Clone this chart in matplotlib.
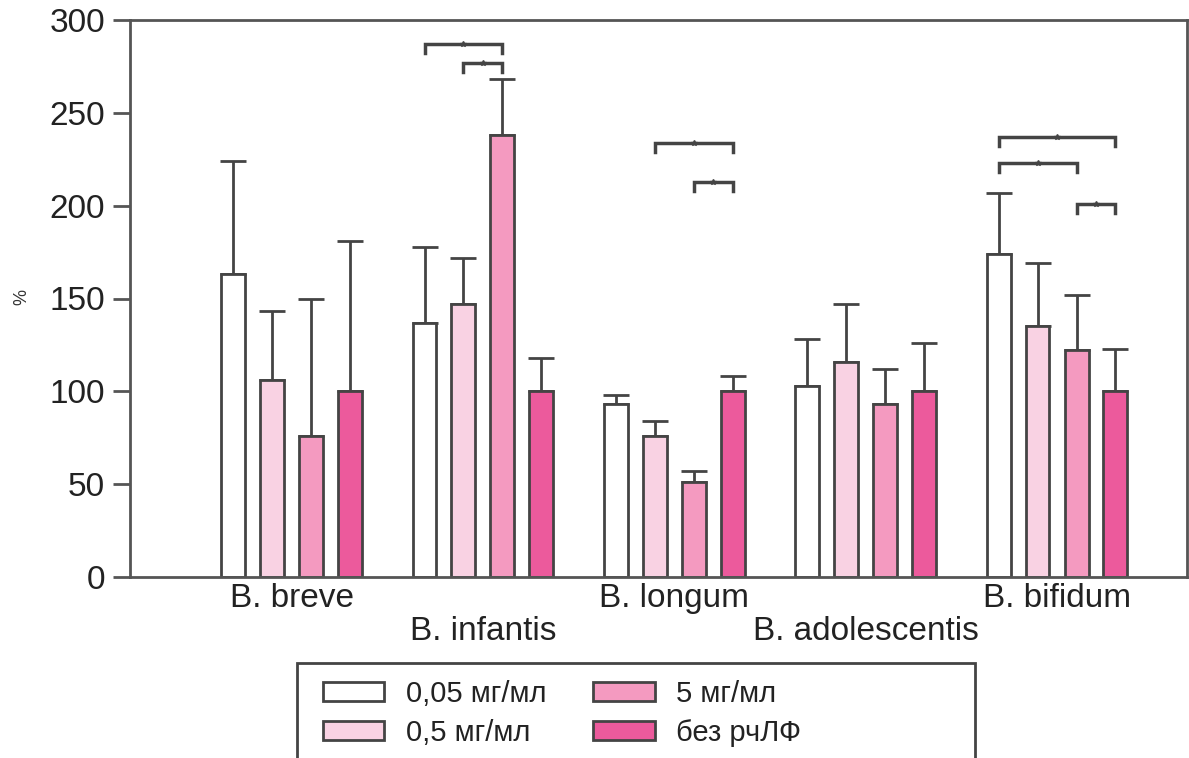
import numpy as np
import matplotlib.pyplot as plt
from matplotlib.patches import Rectangle

plt.rcParams['font.family'] = ['Liberation Sans', 'DejaVu Sans']

# Strains and concentration series
strains = ['B. breve', 'B. infantis', 'B. longum', 'B. adolescentis', 'B. bifidum']
series = ['0,05 мг/мл', '0,5 мг/мл', '5 мг/мл', 'без рчЛФ']

# mean values, %
c005 = [163, 137, 93, 103, 174]
c05 = [106, 147, 76, 116, 135]
c5 = [76, 238, 51, 93, 122]
ctrl = [100, 100, 100, 100, 100]

# upper error bar ends, %
c005_top = [224, 178, 98, 128, 207]
c05_top = [143, 172, 84, 147, 169]
c5_top = [150, 268, 57, 112, 152]
ctrl_top = [181, 118, 108, 126, 123]

# significance brackets: (strain index, bar a, bar b, height)
sig_pairs = [(1, 0, 2, 287), (1, 1, 2, 277),
             (2, 1, 3, 234), (2, 2, 3, 213),
             (4, 0, 3, 237), (4, 0, 2, 223), (4, 2, 3, 201)]

colors = ['#ffffff', '#f9d2e3', '#f49ac0', '#ec5a9c']
edge = '#444444'

W, H = 1189, 758
fig = plt.figure(figsize=(W / 100, H / 100), dpi=100)
ax = fig.add_axes([130 / W, 1 - 577 / H, 1057 / W, 557 / H])

x = np.arange(len(strains))
offsets = [-0.305, -0.102, 0.102, 0.305]
width = 0.125

values = [c005, c05, c5, ctrl]
tops = [c005_top, c05_top, c5_top, ctrl_top]
for k in range(4):
    v = np.array(values[k])
    err = np.array(tops[k]) - v
    ax.bar(x + offsets[k], v, width, color=colors[k], edgecolor=edge, linewidth=2,
           label=series[k], zorder=2,
           yerr=[np.zeros_like(err), err],
           error_kw=dict(ecolor=edge, elinewidth=2, capsize=9.5, capthick=2, zorder=1))

# brackets with star marks
drop = 5
for g, a, b, h in sig_pairs:
    xa, xb = g + offsets[a], g + offsets[b]
    ax.plot([xa, xa, xb, xb], [h - drop, h, h, h - drop], color=edge, lw=2.5,
            solid_joinstyle='miter', zorder=3)
    ax.plot((xa + xb) / 2, h, marker='*', ms=4, color=edge, zorder=3)

ax.set_xlim(-0.844, 4.679)
ax.set_ylim(0, 300)
ax.set_yticks(np.arange(0, 301, 50))
ax.tick_params(axis='y', length=12, width=2, color='#555555', labelsize=24,
               labelcolor='#222222', pad=6)
ax.set_xticks([])
for s in ax.spines.values():
    s.set_color('#555555')
    s.set_linewidth(2)

# strain names in two staggered rows
for i, name in enumerate(strains):
    y = -0.039 if i % 2 == 0 else -0.097
    ax.text(i, y, name, transform=ax.get_xaxis_transform(), ha='center', va='center',
            fontsize=24, color='#222222')

fig.text(22 / W, 1 - 297 / H, '%', rotation=90, fontsize=13, color='#333333',
         ha='center', va='center')

# legend frame runs off the bottom edge
fig.patches.append(Rectangle((297 / W, -0.05), 678 / W, 0.05 + 1 - 663 / H,
                             transform=fig.transFigure, fill=False,
                             edgecolor='#444444', linewidth=2))
leg = fig.legend(loc='upper left', ncol=2, frameon=False,
                 bbox_to_anchor=(323 / W, 1 - 680 / H),
                 fontsize=21, handlelength=2.1, handleheight=0.62, handletextpad=0.75,
                 labelspacing=0.38, borderpad=0, columnspacing=1.6,
                 borderaxespad=0)
for t in leg.get_texts():
    t.set_color('#222222')
for p in leg.get_patches():
    p.set_linewidth(2)

fig.savefig('out.png', dpi=100)
